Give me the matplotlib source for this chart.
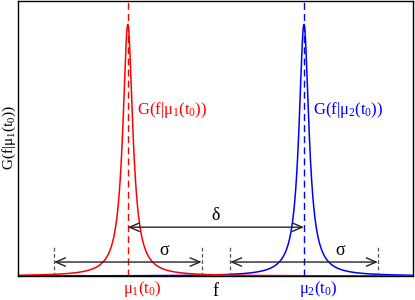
import numpy as np
import matplotlib
matplotlib.use("Agg")
import matplotlib.pyplot as plt
from matplotlib.transforms import offset_copy

plt.rcParams['mathtext.fontset'] = 'custom'
plt.rcParams['mathtext.rm'] = 'Liberation Serif'
plt.rcParams['mathtext.it'] = 'Liberation Serif'
plt.rcParams['mathtext.bf'] = 'Liberation Serif:bold'
plt.rcParams['font.family'] = ['Liberation Serif', 'DejaVu Serif']

# data
x_range = (0.0, 10.0)
mu1 = 2.78
mu2 = 7.24
gamma = 0.152
sigma = 1.87
peak = 1.0
y_max = 1.095
delta_y = 0.194
sigma_y = 0.0555
sigma_tick_top = 0.123
labels_peak = [r'$G(f|\mu_1(t_0))$', r'$G(f|\mu_2(t_0))$']
tick_labels = [r'$\mu_1(t_0)$', r'$\mu_2(t_0)$']

def lorentz(x, mu):
    return peak / (1 + ((x - mu) / gamma) ** 2)

f = np.linspace(x_range[0], x_range[1], 4000)

fig = plt.figure(figsize=(4.15, 3.0), dpi=100)
ax = fig.add_axes([18/415, 24/300, 395/415, 275.5/300])

ax.plot(f, lorentz(f, mu2), color='blue', lw=1.1)
ax.plot(f, lorentz(f, mu1), color='red', lw=1.1)
ax.axvline(mu1, color='red', ls=(0, (5, 3)), lw=1.0)
ax.axvline(mu2, color='blue', ls=(0, (5, 3)), lw=1.0)

# delta arrow
arrow_kw = dict(arrowstyle='<->,head_length=0.7,head_width=0.3', color='#222222', lw=1.0,
                shrinkA=0, shrinkB=0)
ax.annotate('', xy=(mu2, delta_y), xytext=(mu1, delta_y), arrowprops=arrow_kw)
ax.text((mu1 + mu2) / 2, delta_y + 0.012, r'$\delta$', ha='center', va='bottom', fontsize=13)

# sigma arrows
for mu in (mu1, mu2):
    ax.annotate('', xy=(mu + sigma, sigma_y), xytext=(mu - sigma, sigma_y), arrowprops=arrow_kw)
    for xx in (mu - sigma, mu + sigma):
        ax.plot([xx, xx], [0, sigma_tick_top], color='#555555', ls=(0, (3, 2)), lw=0.9)
    ax.text(mu + sigma / 2, sigma_y + 0.012, r'$\sigma$', ha='center', va='bottom', fontsize=13)

ax.text(mu1 + 0.22, 0.66, labels_peak[0], color='red', fontsize=12, va='center', ha='left')
ax.text(mu2 + 0.24, 0.66, labels_peak[1], color='blue', fontsize=12, va='center', ha='left')

ax.set_xlim(*x_range)
ax.set_ylim(0, y_max)
ax.set_xticks([])
ax.set_yticks([])

# tick-like labels under the means
base = ax.get_xaxis_transform()
for mu, lab, c in zip((mu1, mu2), tick_labels, ('red', 'blue')):
    tr = offset_copy(base, fig=fig, x=-5, y=-3, units='dots')
    ax.text(mu, 0, lab, transform=tr, color=c, fontsize=12, ha='left', va='top')

fig.text(215/415, 1 - 292/300, 'f', fontsize=13, ha='center', va='center')
fig.text(9/415, 1 - 138/300, labels_peak[0], fontsize=11, rotation=90, ha='center', va='center')
for s in ax.spines.values():
    s.set_linewidth(1.0)

fig.savefig('out.png', dpi=100)
